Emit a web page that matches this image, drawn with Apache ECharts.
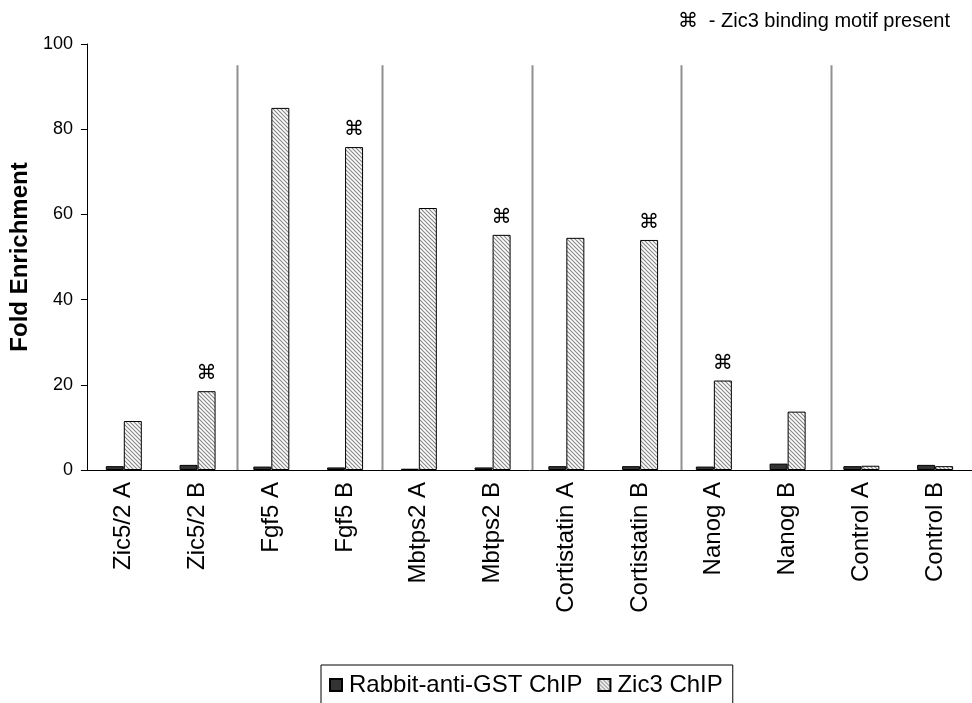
<!DOCTYPE html>
<html>
<head>
<meta charset="utf-8">
<script src="https://cdn.jsdelivr.net/npm/echarts@6/dist/echarts.min.js"></script>
<style>
  html, body { margin: 0; padding: 0; background: #fff; }
  #chart { width: 972px; height: 703px; }
</style>
</head>
<body>
<div id="chart"></div>
<script>
// ChIP fold enrichment per amplicon
const categories = ['Zic5/2 A', 'Zic5/2 B', 'Fgf5 A', 'Fgf5 B', 'Mbtps2 A', 'Mbtps2 B',
  'Cortistatin A', 'Cortistatin B', 'Nanog A', 'Nanog B', 'Control A', 'Control B'];
const gstChip = [0.9, 1.2, 0.8, 0.6, 0.3, 0.6, 0.9, 0.9, 0.8, 1.5, 0.9, 1.2];
const zic3Chip = [11.5, 18.5, 85.0, 75.8, 61.5, 55.2, 54.5, 54.0, 21.0, 13.7, 1.0, 0.9];
// amplicons carrying a Zic3 binding motif
const motifPresent = [false, true, false, true, false, true, false, true, true, false, false, false];
const yTicks = [0, 20, 40, 60, 80, 100];
// gene groups are separated at these category boundaries
const groupBoundaries = [2.03, 4.0, 6.03, 8.05, 10.09];
const separatorTop = 95;

const FONT = 'Liberation Sans, Arial, sans-serif';

// diagonal hatch fill
function hatchPattern() {
  const c = document.createElement('canvas');
  c.width = 4; c.height = 4;
  const g = c.getContext('2d');
  g.fillStyle = '#ffffff';
  g.fillRect(0, 0, 4, 4);
  g.strokeStyle = '#8a8a8a';
  g.lineWidth = 1.2;
  g.beginPath();
  g.moveTo(-1, -1); g.lineTo(5, 5);
  g.moveTo(-1, 3); g.lineTo(1, 5);
  g.moveTo(3, -1); g.lineTo(5, 1);
  g.stroke();
  return c;
}
const hatch = { image: hatchPattern(), repeat: 'repeat' };

const chart = echarts.init(document.getElementById('chart'), null, { renderer: 'canvas' });

chart.setOption({
  animation: false,
  backgroundColor: '#ffffff',
  title: {
    text: '\u2318  - Zic3 binding motif present',
    right: 17,
    top: 6,
    textStyle: { fontFamily: FONT, fontSize: 20, fontWeight: 'normal', color: '#000' }
  },
  legend: {
    top: 665,
    left: 321,
    itemWidth: 12,
    itemHeight: 12,
    itemGap: 15,
    padding: [8, 10, 12, 8],
    borderColor: '#000',
    borderWidth: 1,
    borderRadius: 0,
    textStyle: { fontFamily: FONT, fontSize: 24, color: '#000', padding: [0, 0, 0, 2] },
    data: [
      { name: 'Rabbit-anti-GST ChIP', icon: 'rect' },
      { name: 'Zic3 ChIP', icon: 'rect' }
    ]
  },
  grid: { left: 86, top: 44, width: 888, height: 426, containLabel: false },
  xAxis: {
    type: 'category',
    data: categories,
    axisLine: { lineStyle: { color: '#000', width: 1 } },
    axisTick: { show: false },
    axisLabel: {
      rotate: 90,
      interval: 0,
      margin: 12,
      fontFamily: FONT,
      fontSize: 24,
      color: '#000'
    }
  },
  yAxis: {
    type: 'value',
    min: 0,
    max: 100,
    interval: 20,
    name: 'Fold Enrichment',
    nameLocation: 'middle',
    nameGap: 48,
    nameTextStyle: { fontFamily: FONT, fontSize: 24, fontWeight: 'bold', color: '#000' },
    axisLine: { show: true, lineStyle: { color: '#000', width: 1 } },
    axisTick: { show: true, length: 6, lineStyle: { color: '#000' } },
    splitLine: { show: false },
    axisLabel: {
      fontFamily: FONT,
      fontSize: 18,
      color: '#000',
      margin: 14,
      formatter: v => (yTicks.includes(v) ? String(v) : '')
    }
  },
  series: [
    {
      name: 'Rabbit-anti-GST ChIP',
      type: 'bar',
      data: gstChip,
      barWidth: 18,
      barGap: '0%',
      itemStyle: { color: '#333333', borderColor: '#000', borderWidth: 1 }
    },
    {
      name: 'Zic3 ChIP',
      type: 'bar',
      data: zic3Chip,
      barWidth: 18,
      barGap: '0%',
      itemStyle: { color: hatch, borderColor: '#000', borderWidth: 1 },
      label: {
        show: true,
        position: 'top',
        distance: 7,
        fontFamily: 'DejaVu Sans, sans-serif',
        fontSize: 20,
        color: '#000',
        formatter: p => (motifPresent[p.dataIndex] ? '\u2318' : '')
      }
    },
    {
      // vertical separators between gene groups
      name: 'groups',
      type: 'custom',
      silent: true,
      legendHoverLink: false,
      data: groupBoundaries.map(b => [b, separatorTop]),
      renderItem: (params, api) => {
        const b = api.value(0);
        const first = api.coord([0, 0]);
        const w = api.size([1, 0])[0];
        const x = Math.round(first[0] - w / 2 + b * w) + 0.5;
        const top = api.coord([0, api.value(1)]);
        return {
          type: 'line',
          shape: { x1: x, y1: top[1], x2: x, y2: first[1] },
          style: { stroke: '#909090', lineWidth: 2 }
        };
      },
      z: 1
    }
  ]
});
</script>
</body>
</html>
